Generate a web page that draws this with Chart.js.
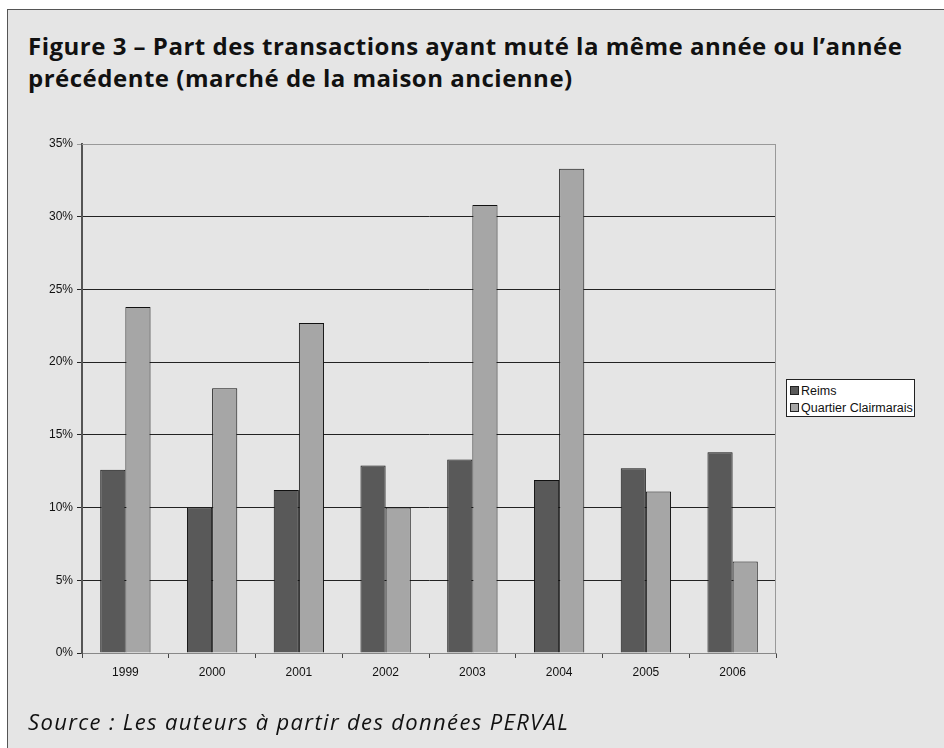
<!DOCTYPE html>
<html>
<head>
<meta charset="utf-8">
<script src="https://cdn.jsdelivr.net/npm/chart.js@4.4.1/dist/chart.umd.min.js"></script>
<style>
  html, body { margin: 0; padding: 0; background: #fff; }
  body { width: 944px; height: 748px; position: relative; overflow: hidden; }
  #frame {
    position: absolute; left: 7px; top: 9px; width: 960px; height: 760px;
    background: #e5e5e5; border: 1.5px solid #555; box-sizing: border-box;
  }
  #title {
    position: absolute; left: 28px; top: 30px; width: 910px;
    font-family: "Open Sans", sans-serif; font-weight: bold; font-size: 24px;
    letter-spacing: 0.5px; line-height: 32px; color: #111;
  }
  #source {
    position: absolute; left: 28px; top: 706px;
    font-family: "Open Sans", sans-serif; font-style: italic; font-size: 22px;
    letter-spacing: 1.35px; color: #111;
  }
  #chartBox { position: absolute; left: 0; top: 0; width: 944px; height: 748px; }
  #legend {
    position: absolute; left: 786px; top: 379px; width: 129px; height: 38px;
    background: #fff; border: 1px solid #222; box-sizing: border-box;
    font-family: "Liberation Sans", Arial, sans-serif; font-size: 12.5px; color: #111;
    padding: 3px 0 0 3px;
  }
  #legend div { height: 17px; line-height: 16px; white-space: nowrap; }
  #legend span.sw {
    display: inline-block; width: 7px; height: 7px; border: 1px solid #222;
    margin-right: 2px; vertical-align: 0px;
  }
</style>
</head>
<body>
<div id="frame"></div>
<div id="title">Figure 3 – Part des transactions ayant muté la même année ou l’année précédente (marché de la maison ancienne)</div>
<div id="chartBox"><canvas id="chart" width="944" height="748"></canvas></div>
<div id="legend"></div>
<div id="source">Source : Les auteurs à partir des données PERVAL</div>
<script>
const years = ["1999", "2000", "2001", "2002", "2003", "2004", "2005", "2006"];
const reims = [12.6, 10.0, 11.2, 12.9, 13.3, 11.9, 12.7, 13.8];
const clairmarais = [23.8, 18.2, 22.7, 10.0, 30.8, 33.3, 11.1, 6.3];

const plotBorder = {
    id: 'plotBorder',
    beforeDatasetsDraw(chart) {
        const a = chart.chartArea;
        const ctx = chart.ctx;
        ctx.save();
        ctx.strokeStyle = '#999';
        ctx.lineWidth = 1;
        ctx.beginPath();
        ctx.moveTo(a.left, a.top + 0.5);
        ctx.lineTo(a.right - 0.5, a.top + 0.5);
        ctx.lineTo(a.right - 0.5, a.bottom);
        ctx.stroke();
        ctx.restore();
    }
};

const ctx = document.getElementById("chart").getContext("2d");
const chart = new Chart(ctx, {
    type: 'bar',
    data: {
        labels: years,
        datasets: [{
            label: "Reims",
            data: reims,
            backgroundColor: '#595959',
            borderColor: '#111',
            borderWidth: 1
        }, {
            label: "Quartier Clairmarais",
            data: clairmarais,
            backgroundColor: '#a6a6a6',
            borderColor: '#111',
            borderWidth: 1
        }]
    },
    options: {
        responsive: false,
        animation: false,
        layout: { padding: { left: 0, top: 144, right: 168, bottom: 55 } },
        datasets: { bar: { categoryPercentage: 0.58, barPercentage: 1.0 } },
        plugins: {
            legend: { display: false },
            tooltip: { enabled: false }
        },
        scales: {
            x: {
                grid: { offset: true, drawOnChartArea: false, tickLength: 5, color: '#444' },
                border: { color: '#888', width: 1 },
                ticks: {
                    color: '#111', padding: 7,
                    font: { family: '"Liberation Sans", Arial, sans-serif', size: 12 }
                },
                afterFit(scale) { scale.height = 40; }
            },
            y: {
                min: 0, max: 35,
                grid: {
                    tickLength: 5,
                    color: (c) => c.tick && c.tick.value === 35 ? '#999' : '#222'
                },
                border: { color: '#555', width: 2 },
                ticks: {
                    stepSize: 5, color: '#111', padding: 4,
                    font: { family: '"Liberation Sans", Arial, sans-serif', size: 12 },
                    callback: (v) => v + '%'
                },
                afterFit(scale) { scale.width = 82; }
            }
        }
    },
    plugins: [plotBorder]
});

// html legend built from the datasets
const legendEl = document.getElementById("legend");
chart.data.datasets.forEach(function(ds) {
    const row = document.createElement("div");
    const sw = document.createElement("span");
    sw.className = "sw";
    sw.style.background = ds.backgroundColor;
    row.appendChild(sw);
    row.appendChild(document.createTextNode(ds.label));
    legendEl.appendChild(row);
});
</script>
</body>
</html>
